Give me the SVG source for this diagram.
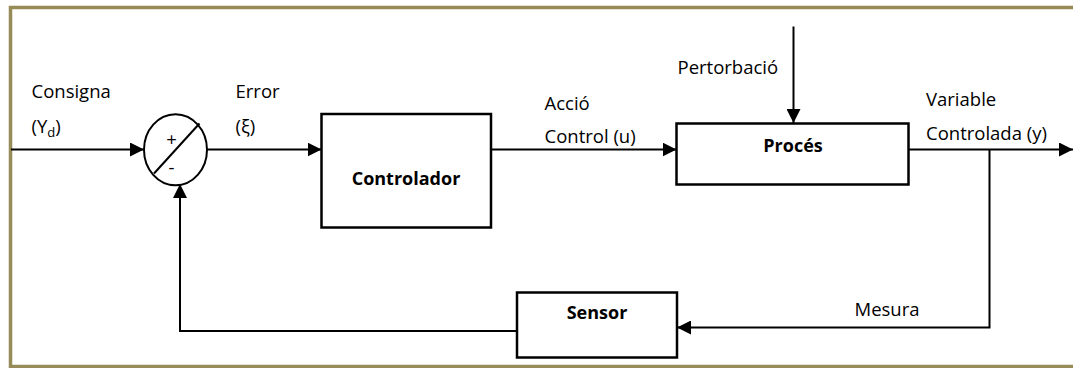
<svg xmlns="http://www.w3.org/2000/svg" width="1073" height="368" viewBox="0 0 1073 368">
<defs>
<marker id="arr" viewBox="0 0 14 14" refX="14" refY="7" markerWidth="14" markerHeight="14" markerUnits="userSpaceOnUse" orient="auto">
<path d="M0,0 L14,7 L0,14 Z" fill="#000"/>
</marker>
<style>
.lbl{font-family:"Open Sans","Liberation Sans",sans-serif;font-size:18.5px;fill:#000}
.bold{font-family:"Open Sans","Liberation Sans",sans-serif;font-size:18px;font-weight:bold;fill:#000}
.box{fill:#fff;stroke:#000;stroke-width:2.5}
.wire{fill:none;stroke:#000;stroke-width:2}
</style>
</defs>
<rect x="0" y="0" width="1073" height="368" fill="#fff"/>
<rect id="frame" x="10.5" y="7.5" width="1080" height="359" fill="none" stroke="#978c57" stroke-width="3.5"/>

<g id="connectors">
<path class="wire" d="M11,149.5 H144" marker-end="url(#arr)"/>
<path class="wire" d="M207,149.5 H321.5" marker-end="url(#arr)"/>
<path class="wire" d="M491,149.5 H676.5" marker-end="url(#arr)"/>
<path class="wire" d="M793.5,26.5 V123" marker-end="url(#arr)"/>
<path class="wire" d="M908.5,149.5 H1073" marker-end="url(#arr)"/>
<path class="wire" d="M989.5,149.5 V327.5 H677" marker-end="url(#arr)"/>
<path class="wire" d="M517,331 H180 V184" marker-end="url(#arr)"/>
</g>

<g id="summer">
<ellipse cx="175.5" cy="149.7" rx="31.5" ry="35.5" fill="#fff" stroke="#000" stroke-width="2"/>
<line x1="154" y1="173.5" x2="199.5" y2="123.5" stroke="#000" stroke-width="2"/>
<text class="lbl" x="171.5" y="146" text-anchor="middle" font-size="17">+</text>
<text class="lbl" x="171.5" y="174" text-anchor="middle" font-size="16">-</text>
</g>

<g id="controlador">
<rect class="box" x="321.5" y="114" width="169.5" height="113.5"/>
<text class="bold" x="406" y="185" text-anchor="middle">Controlador</text>
</g>

<g id="proces">
<rect class="box" x="676.5" y="123.5" width="232" height="61"/>
<text class="bold" x="793" y="151.5" text-anchor="middle">Procés</text>
</g>

<g id="sensor">
<rect class="box" x="517" y="292.5" width="160" height="65"/>
<text class="bold" x="597" y="318.5" text-anchor="middle">Sensor</text>
</g>

<g id="labels">
<text class="lbl" x="31.5" y="98">Consigna</text>
<text class="lbl" x="31.5" y="132.5">(Y<tspan font-size="13" dy="4">d</tspan><tspan dy="-4">)</tspan></text>
<text class="lbl" x="235.5" y="98">Error</text>
<text class="lbl" x="235.5" y="132.5">(ξ)</text>
<text class="lbl" x="544.5" y="110">Acció</text>
<text class="lbl" x="544.5" y="142.5">Control (u)</text>
<text class="lbl" x="677.5" y="74">Pertorbació</text>
<text class="lbl" x="926" y="106">Variable</text>
<text class="lbl" x="926" y="139.5">Controlada (y)</text>
<text class="lbl" x="854.5" y="316">Mesura</text>
</g>
</svg>
